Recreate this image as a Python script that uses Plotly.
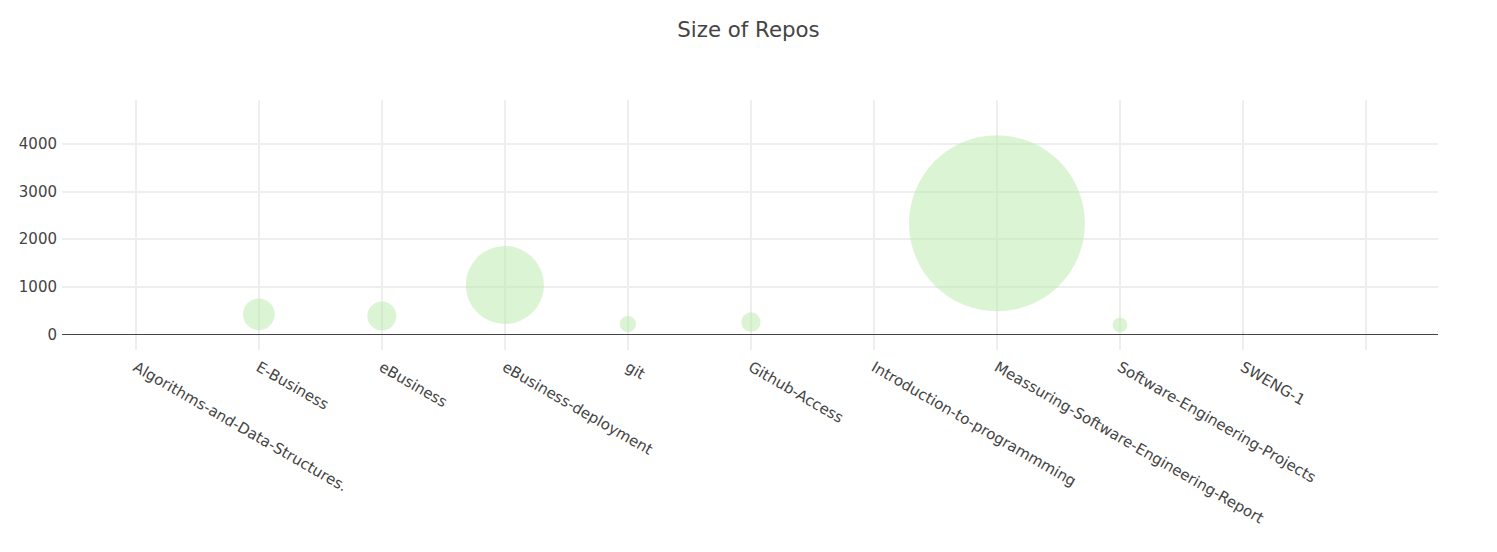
import plotly.graph_objects as go

repos = [
    "Algorithms-and-Data-Structures.",
    "E-Business",
    "eBusiness",
    "eBusiness-deployment",
    "git",
    "Github-Access",
    "Introduction-to-programmming",
    "Meassuring-Software-Engineering-Report",
    "Software-Engineering-Projects",
    "SWENG-1",
    " ",
]
sizes = [0, 420, 385, 1036, 216, 258, 0, 2333, 195, 30, None]

fig = go.Figure(
    go.Scatter(
        x=repos,
        y=sizes,
        mode="markers",
        marker=dict(
            size=[s if s is not None else 0 for s in sizes],
            sizemode="diameter",
            sizeref=13.26,
            color="rgb(183,234,168)",
            opacity=0.5,
            line=dict(width=0),
        ),
        hoverinfo="x+y",
    )
)

fig.update_layout(
    template="none",
    width=1497,
    height=552,
    title=dict(
        text="Size of Repos",
        x=0.5,
        xanchor="center",
        y=1 - 30 / 552,
        yanchor="middle",
        yref="container",
        font=dict(size=21.3, color="#444"),
    ),
    font=dict(family="DejaVu Sans, Verdana, sans-serif", size=15, color="#444"),
    margin=dict(l=62, r=59, t=100, b=202, autoexpand=False),
    paper_bgcolor="white",
    plot_bgcolor="white",
    showlegend=False,
    xaxis=dict(
        type="category",
        categoryorder="array",
        categoryarray=repos,
        range=[-0.6, 10.585],
        tickangle=30,
        ticklabelstandoff=5,
        showgrid=True,
        gridcolor="#eee",
        gridwidth=2,
        showline=False,
        zeroline=False,
        automargin=False,
    ),
    yaxis=dict(
        range=[-330, 4924],
        tickvals=[0, 1000, 2000, 3000, 4000],
        ticklabelstandoff=4,
        showgrid=True,
        gridcolor="#eee",
        gridwidth=1.5,
        zeroline=True,
        zerolinecolor="#444",
        zerolinewidth=1,
        showline=False,
        automargin=False,
    ),
)

fig.write_html("out.html")
